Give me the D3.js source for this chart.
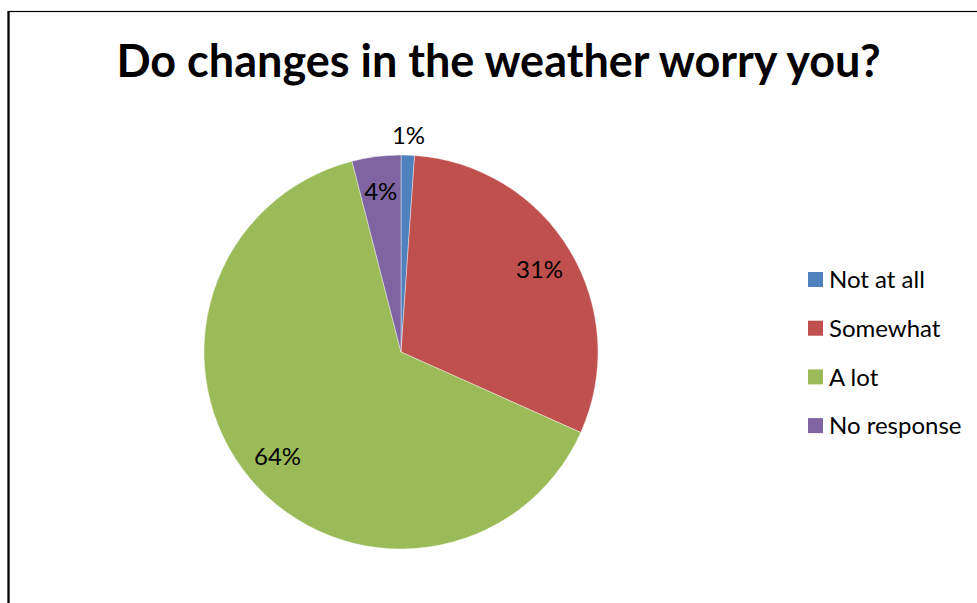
<!DOCTYPE html>
<html><head><meta charset="utf-8">
<script src="https://cdn.jsdelivr.net/npm/d3@7"></script>
<style>html,body{margin:0;padding:0;background:#fff;}svg{display:block;}</style>
</head><body>
<svg id="c" width="977" height="603"></svg>
<script>
const categories = ["Not at all", "Somewhat", "A lot", "No response"];
const values = [1.1, 30.6, 64.3, 4.0];
const labels = ["1%", "31%", "64%", "4%"];
const colors = ["#4F81BD", "#C0504D", "#9BBB59", "#8064A2"];
const title = "Do changes in the weather worry you?";

const svg = d3.select("#c");
const font = "Lato, 'Open Sans', sans-serif";

// chart frame
svg.append("rect").attr("x", 8.5).attr("y", 11.5).attr("width", 1000).attr("height", 700)
  .attr("fill", "#fff").attr("stroke", "#000").attr("stroke-width", 1.2);
svg.append("line").attr("x1", 8.5).attr("x2", 8.5).attr("y1", 11).attr("y2", 603)
  .attr("stroke", "#000").attr("stroke-width", 2.2);

svg.append("text").attr("x", 498.5).attr("y", 77).attr("text-anchor", "middle")
  .attr("font-family", font).attr("font-weight", "bold").attr("font-size", 45)
  .attr("fill", "#000").text(title);

const cx = 401, cy = 352, R = 197;
const data = categories.map((c, i) => ({c, v: values[i], l: labels[i], col: colors[i]}));
const pie = d3.pie().value(d => d.v).sort(null);
const arc = d3.arc().innerRadius(0).outerRadius(R);
const g = svg.append("g").attr("transform", `translate(${cx},${cy})`);
const arcs = pie(data);
g.selectAll("path").data(arcs).enter().append("path")
  .attr("d", arc).attr("fill", d => d.data.col)
  .attr("stroke", "#fff").attr("stroke-width", 0.4);

g.selectAll("text.lbl").data(arcs).enter().append("text").attr("class", "lbl")
  .attr("transform", d => {
    const a = (d.startAngle + d.endAngle) / 2;
    const r = d.data.v < 2 ? R * 1.1 : R * 0.82;
    return `translate(${Math.sin(a) * r},${-Math.cos(a) * r})`;
  })
  .attr("text-anchor", "middle").attr("dy", "0.36em")
  .attr("font-family", font).attr("font-size", 24).attr("fill", "#000")
  .text(d => d.data.l);

const lg = svg.append("g").attr("transform", "translate(808,272)");
const items = lg.selectAll("g").data(data).enter().append("g")
  .attr("transform", (d, i) => `translate(0,${i * 48.7})`);
items.append("rect").attr("width", 15).attr("height", 15).attr("fill", d => d.col);
items.append("text").attr("x", 21).attr("y", 7.5).attr("dy", "0.36em")
  .attr("font-family", font).attr("font-size", 24).attr("fill", "#000").text(d => d.c);
</script>
</body></html>
